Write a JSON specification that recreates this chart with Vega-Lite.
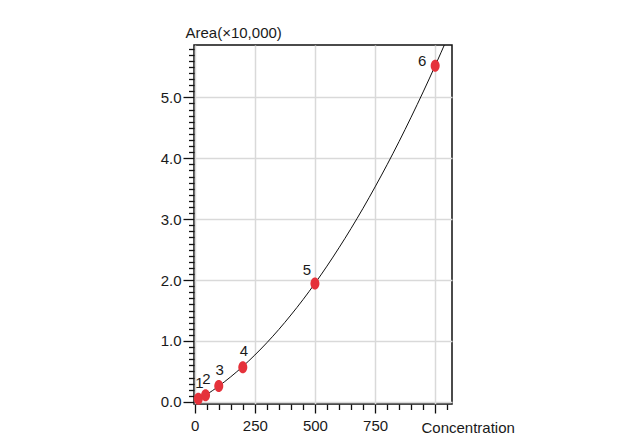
{
  "$schema": "https://vega.github.io/schema/vega-lite/v6.json",
  "width": 258,
  "height": 359,
  "autosize": {"type": "none"},
  "padding": {"left": 194, "top": 45, "right": 170, "bottom": 42},
  "background": "white",
  "config": {
    "font": "Liberation Sans",
    "view": {"stroke": "#111111", "strokeWidth": 1.5},
    "axis": {
      "labelFont": "Liberation Sans",
      "titleFont": "Liberation Sans",
      "labelFontSize": 15,
      "titleFontSize": 15,
      "titleFontWeight": "normal",
      "labelColor": "#1a1a1a",
      "titleColor": "#1a1a1a",
      "tickColor": "#111111",
      "tickWidth": 1.3,
      "domain": false,
      "gridColor": "#d9d9d9",
      "gridWidth": 1.5,
      "labelOverlap": false,
      "labelFlush": false
    }
  },
  "datasets": {
    "points": [
      {"conc": 15, "area": 0.05, "label": 1},
      {"conc": 45, "area": 0.11, "label": 2},
      {"conc": 100, "area": 0.26, "label": 3},
      {"conc": 200, "area": 0.57, "label": 4},
      {"conc": 500, "area": 1.945, "label": 5},
      {"conc": 1000, "area": 5.52, "label": 6}
    ],
    "curve": [
      {"conc": 15, "area": 0.035},
      {"conc": 50, "area": 0.121},
      {"conc": 100, "area": 0.259},
      {"conc": 150, "area": 0.412},
      {"conc": 200, "area": 0.582},
      {"conc": 250, "area": 0.769},
      {"conc": 300, "area": 0.971},
      {"conc": 350, "area": 1.19},
      {"conc": 400, "area": 1.426},
      {"conc": 450, "area": 1.677},
      {"conc": 500, "area": 1.945},
      {"conc": 550, "area": 2.229},
      {"conc": 600, "area": 2.53},
      {"conc": 650, "area": 2.846},
      {"conc": 700, "area": 3.179},
      {"conc": 750, "area": 3.529},
      {"conc": 800, "area": 3.894},
      {"conc": 850, "area": 4.276},
      {"conc": 900, "area": 4.675},
      {"conc": 950, "area": 5.089},
      {"conc": 1000, "area": 5.52},
      {"conc": 1050, "area": 5.967}
    ]
  },
  "encoding": {
    "x": {
      "field": "conc",
      "type": "quantitative",
      "scale": {"domain": [-3, 1070], "nice": false, "zero": false},
      "axis": {
        "values": [0, 50, 100, 150, 200, 250, 300, 350, 400, 450, 500, 550, 600, 650, 700, 750, 800, 850, 900, 950, 1000, 1050],
        "title": "Concentration",
        "titleAlign": "left",
        "titleBaseline": "alphabetic",
        "titleAnchor": "start",
        "titleX": 227,
        "titleY": 28,
        "labelPadding": 5,
        "labelExpr": "(datum.value % 250 === 0 && datum.value < 1000) ? datum.label : ''",
        "tickSize": {"condition": {"test": "datum.value % 250 === 0", "value": 9}, "value": 5.5},
        "gridOpacity": {"condition": {"test": "datum.value % 250 === 0", "value": 1}, "value": 0}
      }
    },
    "y": {
      "field": "area",
      "type": "quantitative",
      "scale": {"domain": [-0.035, 5.86], "nice": false, "zero": false},
      "axis": {
        "values": [0, 0.1, 0.2, 0.3, 0.4, 0.5, 0.6, 0.7, 0.8, 0.9, 1, 1.1, 1.2, 1.3, 1.4, 1.5, 1.6, 1.7, 1.8, 1.9, 2, 2.1, 2.2, 2.3, 2.4, 2.5, 2.6, 2.7, 2.8, 2.9, 3, 3.1, 3.2, 3.3, 3.4, 3.5, 3.6, 3.7, 3.8, 3.9, 4, 4.1, 4.2, 4.3, 4.4, 4.5, 4.6, 4.7, 4.8, 4.9, 5, 5.1, 5.2, 5.3, 5.4, 5.5, 5.6, 5.7, 5.8],
        "title": "Area(×10,000)",
        "titleAngle": 0,
        "titleAlign": "left",
        "titleBaseline": "alphabetic",
        "titleAnchor": "end",
        "titleX": -9,
        "titleY": -8,
        "labelPadding": 2,
        "labelExpr": "abs(datum.value - round(datum.value)) < 0.001 ? format(datum.value, '.1f') : ''",
        "tickSize": {"condition": {"test": "abs(datum.value - round(datum.value)) < 0.001", "value": 11}, "value": 5.5},
        "gridOpacity": {"condition": {"test": "abs(datum.value - round(datum.value)) < 0.001", "value": 1}, "value": 0}
      }
    }
  },
  "layer": [
    {
      "data": {"name": "curve"},
      "mark": {"type": "line", "color": "#111111", "strokeWidth": 1, "interpolate": "monotone", "clip": true}
    },
    {
      "data": {"name": "points"},
      "mark": {
        "type": "point",
        "filled": true,
        "opacity": 1,
        "color": "#e5323b",
        "size": 144,
        "shape": "M0,-1C0.41,-1 0.75,-0.55 0.75,0C0.75,0.55 0.41,1 0,1C-0.41,1 -0.75,0.55 -0.75,0C-0.75,-0.55 -0.41,-1 0,-1Z"
      }
    },
    {
      "data": {"name": "points"},
      "transform": [{"filter": "datum.label <= 4"}],
      "mark": {"type": "text", "fontSize": 15, "color": "#1a1a1a", "dx": 1, "dy": -16, "baseline": "middle", "align": "center"},
      "encoding": {"text": {"field": "label", "type": "nominal"}}
    },
    {
      "data": {"name": "points"},
      "transform": [{"filter": "datum.label == 5"}],
      "mark": {"type": "text", "fontSize": 15, "color": "#1a1a1a", "dx": -8, "dy": -13, "baseline": "middle", "align": "center"},
      "encoding": {"text": {"field": "label", "type": "nominal"}}
    },
    {
      "data": {"name": "points"},
      "transform": [{"filter": "datum.label == 6"}],
      "mark": {"type": "text", "fontSize": 15, "color": "#1a1a1a", "dx": -13, "dy": -5, "baseline": "middle", "align": "center"},
      "encoding": {"text": {"field": "label", "type": "nominal"}}
    }
  ]
}
